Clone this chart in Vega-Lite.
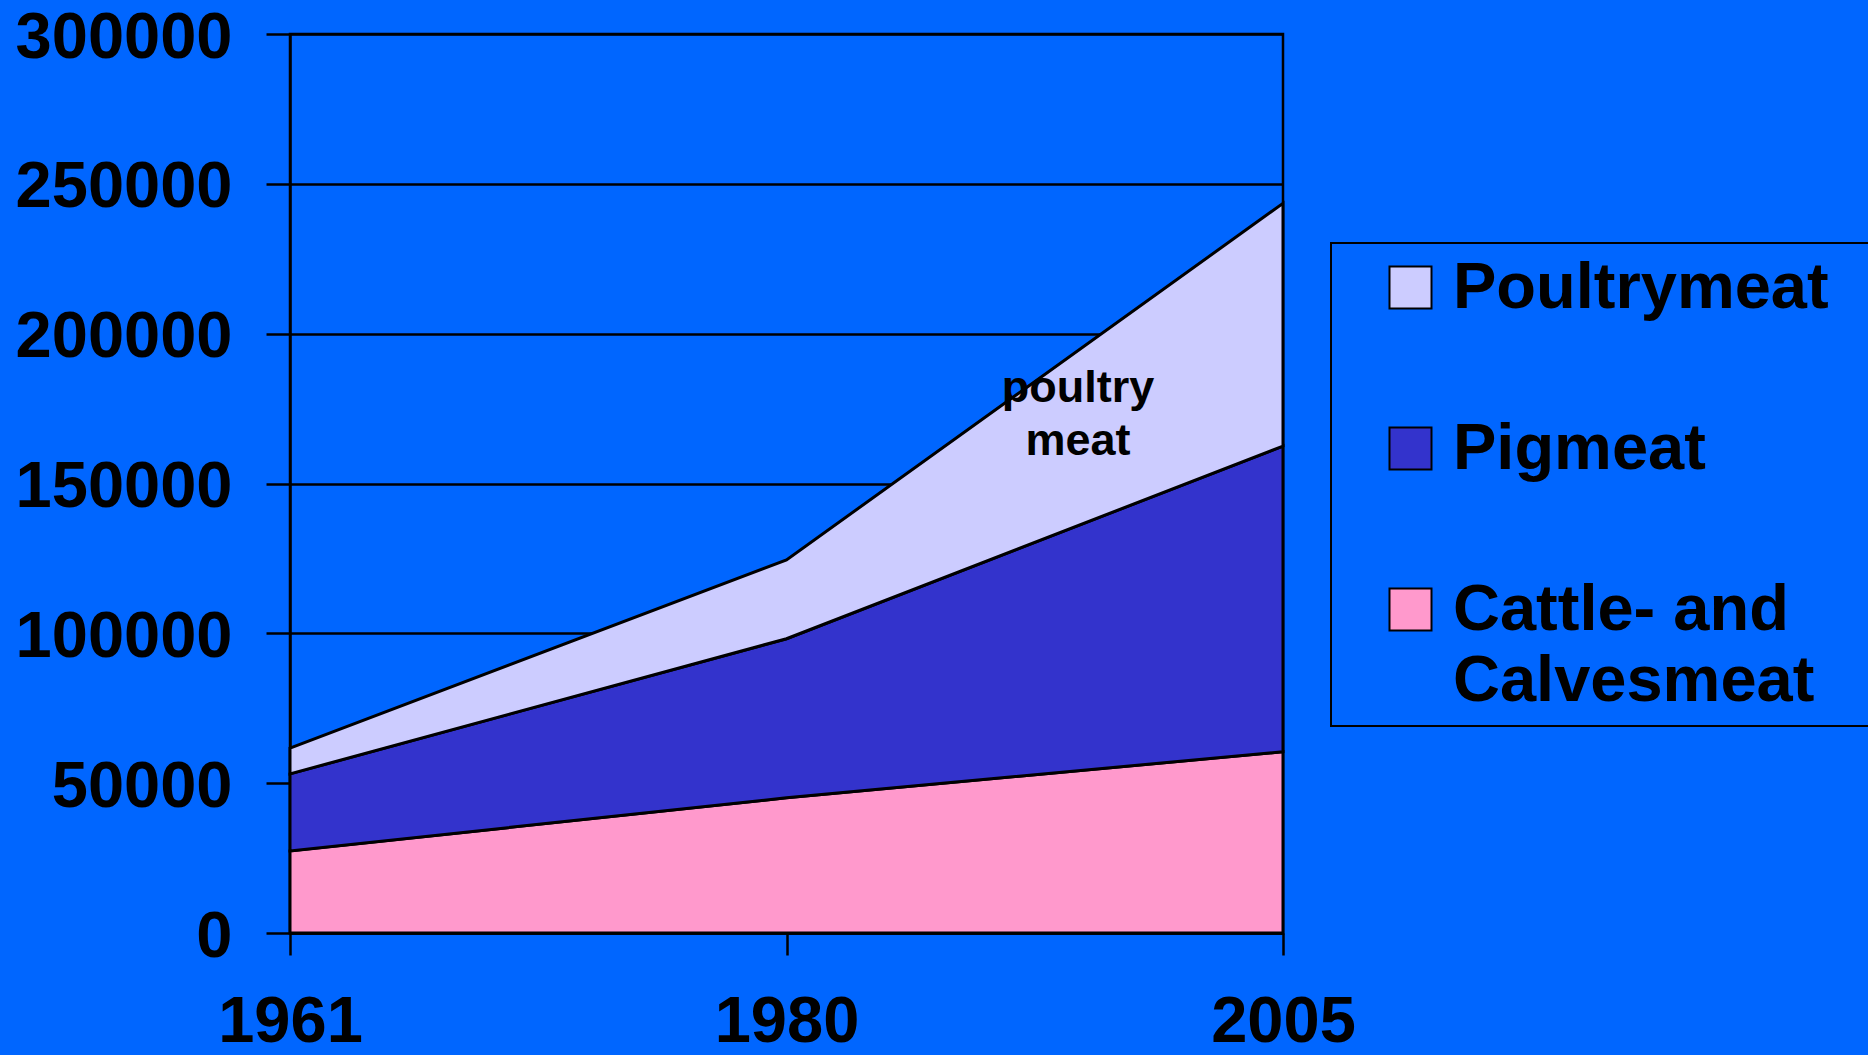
{
  "$schema": "https://vega.github.io/schema/vega-lite/v6.json",
  "autosize": {"type": "none"},
  "width": 993,
  "height": 899,
  "padding": {"left": 290, "top": 34, "right": 585, "bottom": 122},
  "background": "#0066FF",
  "config": {
    "view": {"stroke": "black", "strokeWidth": 2.5},
    "font": "Liberation Sans",
    "axis": {
      "domainColor": "black",
      "domainWidth": 2.5,
      "tickColor": "black",
      "tickWidth": 2.5,
      "gridColor": "black",
      "gridWidth": 2.5,
      "labelColor": "black",
      "labelFont": "Liberation Sans",
      "labelFontWeight": "bold",
      "labelFontSize": 65,
      "labelLimit": 1000,
      "title": null
    }
  },
  "datasets": {
    "meat": [
      {"year": "1961", "type": "Cattle- and Calvesmeat", "stackOrder": 1, "value": 27400},
      {"year": "1980", "type": "Cattle- and Calvesmeat", "stackOrder": 1, "value": 45100},
      {"year": "2005", "type": "Cattle- and Calvesmeat", "stackOrder": 1, "value": 60500},
      {"year": "1961", "type": "Pigmeat", "stackOrder": 2, "value": 25700},
      {"year": "1980", "type": "Pigmeat", "stackOrder": 2, "value": 53100},
      {"year": "2005", "type": "Pigmeat", "stackOrder": 2, "value": 102000},
      {"year": "1961", "type": "Poultrymeat", "stackOrder": 3, "value": 8600},
      {"year": "1980", "type": "Poultrymeat", "stackOrder": 3, "value": 26300},
      {"year": "2005", "type": "Poultrymeat", "stackOrder": 3, "value": 81000}
    ],
    "notes": [
      {"year": "2005", "y": 181900, "text": ["poultry", "meat"]}
    ]
  },
  "layer": [
    {
      "data": {"name": "meat"},
      "mark": {"type": "area", "stroke": "black", "strokeWidth": 3, "opacity": 1},
      "encoding": {
        "x": {
          "field": "year",
          "type": "ordinal",
          "scale": {"type": "point", "padding": 0},
          "axis": {
            "labelAngle": 0,
            "tickSize": 22,
            "labelPadding": 35,
            "labelBaseline": "top",
            "grid": false
          }
        },
        "y": {
          "field": "value",
          "type": "quantitative",
          "stack": "zero",
          "scale": {"domain": [0, 300000], "nice": false},
          "axis": {
            "values": [0, 50000, 100000, 150000, 200000, 250000, 300000],
            "format": "d",
            "tickSize": 24,
            "labelPadding": 34,
            "labelOffset": 3,
            "grid": true
          }
        },
        "order": {"field": "stackOrder", "type": "quantitative"},
        "color": {
          "field": "type",
          "type": "nominal",
          "scale": {
            "domain": ["Poultrymeat", "Pigmeat", "Cattle- and Calvesmeat"],
            "range": ["#CCCCFF", "#3333CC", "#FF99CC"]
          },
          "legend": {
            "orient": "none",
            "legendX": 1041,
            "legendY": 209,
            "title": " ",
            "titleOrient": "right",
            "titleFontSize": 10,
            "titlePadding": 40,
            "padding": 12,
            "strokeColor": "black",
            "fillColor": "#0066FF",
            "symbolType": "square",
            "symbolSize": 1764,
            "symbolStrokeColor": "black",
            "symbolStrokeWidth": 2,
            "symbolOpacity": 1,
            "symbolOffset": 35,
            "labelOffset": 10,
            "labelFont": "Liberation Sans",
            "labelFontSize": 65,
            "labelFontWeight": "bold",
            "labelColor": "black",
            "labelLimit": 1000,
            "rowPadding": 95,
            "labelExpr": "datum.label == 'Cattle- and Calvesmeat' ? ['Cattle- and', 'Calvesmeat'] : datum.label",
            "encode": {
              "legend": {"update": {"strokeWidth": {"value": 2}}},
              "labels": {"update": {"lineHeight": {"value": 71}}}
            }
          }
        }
      }
    },
    {
      "data": {"name": "notes"},
      "mark": {
        "type": "text",
        "font": "Liberation Sans",
        "fontWeight": "bold",
        "fontSize": 45,
        "lineHeight": 53,
        "align": "center",
        "baseline": "middle",
        "dx": -205,
        "color": "black"
      },
      "encoding": {
        "x": {"field": "year", "type": "ordinal"},
        "y": {"field": "y", "type": "quantitative"},
        "text": {"field": "text"}
      }
    }
  ]
}
